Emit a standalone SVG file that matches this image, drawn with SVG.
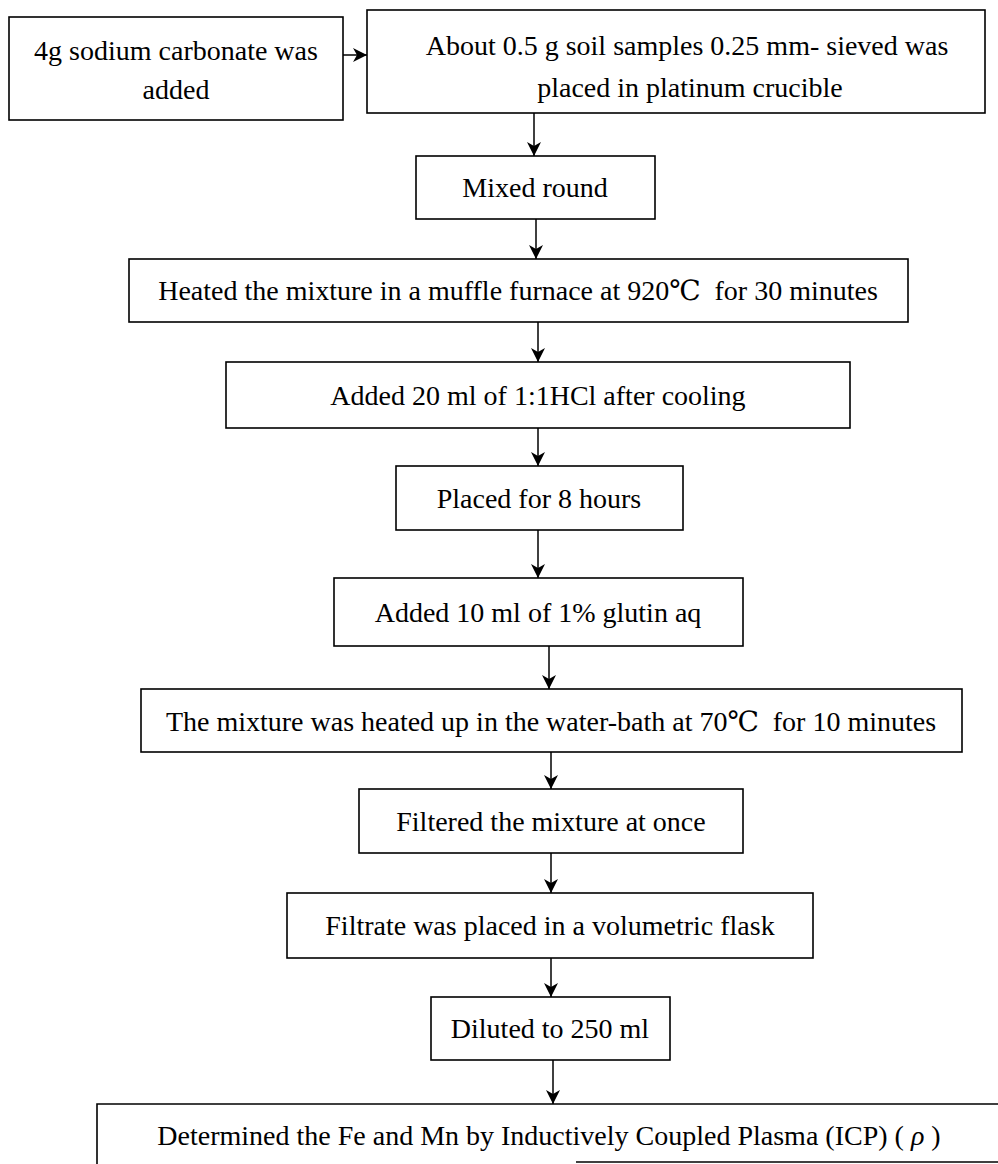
<svg xmlns="http://www.w3.org/2000/svg" width="998" height="1164" viewBox="0 0 998 1164">
<style>
.box{fill:#fff;stroke:#000;stroke-width:1.6}
.t{font-family:"Liberation Serif","DejaVu Serif","Noto Sans CJK SC",serif;font-size:28px;fill:#000;text-anchor:middle;white-space:pre}
.c{stroke:#000;stroke-width:1.5;fill:none;marker-end:url(#ah)}
.ln{stroke:#000;stroke-width:1.6;fill:none}
</style>
<defs>
<marker id="ah" viewBox="0 0 14 14" refX="14" refY="7" markerWidth="14" markerHeight="14" markerUnits="userSpaceOnUse" orient="auto">
<path d="M0,0 L14,7 L0,14 L4,7 Z" fill="#000"/>
</marker>
</defs>
<rect width="998" height="1164" fill="#fff"/>
<g id="n1"><rect class="box" x="9" y="17" width="334" height="103"/><text class="t" x="176" y="60">4g sodium carbonate was</text><text class="t" x="176" y="99">added</text></g>
<g id="n2"><rect class="box" x="367" y="10" width="618" height="103"/><text class="t" x="687" y="55">About 0.5 g soil samples 0.25 mm- sieved was</text><text class="t" x="690" y="97">placed in platinum crucible</text></g>
<g id="n3"><rect class="box" x="416" y="156" width="239" height="63"/><text class="t" x="535" y="197">Mixed round</text></g>
<g id="n4"><rect class="box" x="129" y="259" width="779" height="63"/><text class="t" x="518" y="300" xml:space="preserve">Heated the mixture in a muffle furnace at 920℃  for 30 minutes</text></g>
<g id="n5"><rect class="box" x="226" y="362" width="624" height="66"/><text class="t" x="538" y="405">Added 20 ml of 1:1HCl after cooling</text></g>
<g id="n6"><rect class="box" x="396" y="466" width="287" height="64"/><text class="t" x="539" y="508">Placed for 8 hours</text></g>
<g id="n7"><rect class="box" x="334" y="578" width="409" height="68"/><text class="t" x="538" y="622">Added 10 ml of 1% glutin aq</text></g>
<g id="n8"><rect class="box" x="141" y="689" width="821" height="63"/><text class="t" x="551" y="731" xml:space="preserve">The mixture was heated up in the water-bath at 70℃  for 10 minutes</text></g>
<g id="n9"><rect class="box" x="359" y="789" width="384" height="64"/><text class="t" x="551" y="831">Filtered the mixture at once</text></g>
<g id="n10"><rect class="box" x="287" y="893" width="526" height="65"/><text class="t" x="550" y="935">Filtrate was placed in a volumetric flask</text></g>
<g id="n11"><rect class="box" x="431" y="997" width="239" height="63"/><text class="t" x="550" y="1038">Diluted to 250 ml</text></g>
<g id="n12"><path class="ln" d="M97,1164 L97,1104 L998,1104"/><path class="ln" d="M576,1162 L998,1162"/><text class="t" x="549" y="1145">Determined the Fe and Mn by Inductively Coupled Plasma (ICP) ( <tspan font-style="italic">ρ</tspan> )</text></g>
<g id="connectors">
<line class="c" x1="343" y1="55" x2="367" y2="55"/>
<line class="c" x1="534" y1="113" x2="534" y2="156"/>
<line class="c" x1="536" y1="219" x2="536" y2="259"/>
<line class="c" x1="538" y1="322" x2="538" y2="362"/>
<line class="c" x1="538" y1="428" x2="538" y2="466"/>
<line class="c" x1="538" y1="530" x2="538" y2="578"/>
<line class="c" x1="549" y1="646" x2="549" y2="689"/>
<line class="c" x1="551" y1="752" x2="551" y2="789"/>
<line class="c" x1="551" y1="853" x2="551" y2="893"/>
<line class="c" x1="551" y1="958" x2="551" y2="997"/>
<line class="c" x1="553" y1="1060" x2="553" y2="1104"/>
</g>
</svg>
